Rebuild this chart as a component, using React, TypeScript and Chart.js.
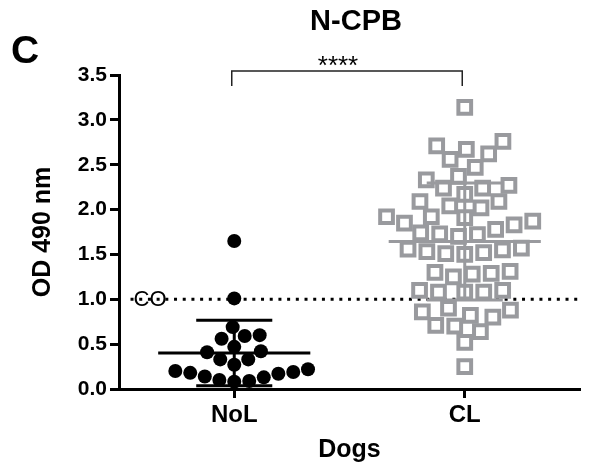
import React, { useEffect, useRef } from 'react';
import { Chart, registerables } from 'chart.js';

Chart.register(...registerables);

// ---- data ----
const categories = ['NoL', 'CL'];
const nolValues = [1.65, 1.01, 0.69, 0.60, 0.59, 0.56, 0.47, 0.42, 0.41, 0.33, 0.33, 0.27, 0.22, 0.20, 0.19, 0.18, 0.17, 0.14, 0.13, 0.10, 0.09, 0.08];
const clValues = [
  3.14, 2.76, 2.71, 2.67, 2.62, 2.56, 2.47, 2.37, 2.33, 2.27,
  2.24, 2.24, 2.17, 2.09, 2.09, 2.04, 2.02, 1.92, 1.92, 1.91,
  1.87, 1.85, 1.83, 1.78, 1.74, 1.73, 1.72, 1.70,
  1.57, 1.56, 1.55, 1.53, 1.52, 1.51, 1.50,
  1.31, 1.30, 1.29, 1.28, 1.25,
  1.10, 1.10, 1.08, 1.08, 1.08,
  0.90, 0.88, 0.86, 0.82, 0.80, 0.71, 0.70, 0.64, 0.52, 0.25,
];
const yTickValues = [0, 0.5, 1.0, 1.5, 2.0, 2.5, 3.0, 3.5];
const cutoffValue = 1.0;
const cutoffLabel = 'CO';
const chartTitle = 'N-CPB';
const panelLetter = 'C';
const significance = '****';
const yTitle = 'OD 490 nm';
const xTitle = 'Dogs';

const FONT = "'Liberation Sans', Arial, Helvetica, sans-serif";
const GRAY = '#999a9e';

function mean(a: number[]) {
  return a.reduce((s, v) => s + v, 0) / a.length;
}
function sd(a: number[]) {
  const m = mean(a);
  return Math.sqrt(a.reduce((s, v) => s + (v - m) * (v - m), 0) / (a.length - 1));
}

// beeswarm layout: offsets (in x-units) computed from the values
function swarmOffsets(values: number[], pxX: number, pxY: number, d: number) {
  const idx = values.map((_, i) => i).sort((a, b) => values[a] - values[b]);
  const placed: { x: number; y: number }[] = [];
  const out = new Array(values.length).fill(0);
  let side = 1;
  for (const i of idx) {
    const py = values[i] * pxY;
    const cands = [0];
    for (const p of placed) {
      const dy = Math.abs(p.y - py);
      if (dy < d) {
        const dx = Math.sqrt(d * d - dy * dy);
        cands.push(p.x + dx, p.x - dx);
      }
    }
    const ok = (cx: number) => placed.every((p) => (p.x - cx) ** 2 + (p.y - py) ** 2 >= d * d - 0.05);
    cands.sort((a, b) => {
      const da = Math.round(Math.abs(a) * 10), db = Math.round(Math.abs(b) * 10);
      if (da !== db) return da - db;
      return side > 0 ? b - a : a - b;
    });
    let best = 0;
    for (const c of cands) {
      if (ok(c)) { best = c; break; }
    }
    if (Math.abs(best) > 0.5) side = best > 0 ? -1 : 1;
    placed.push({ x: best, y: py });
    out[i] = best / pxX;
  }
  return out;
}

function errorBarData(values: number[], center: number) {
  const m = mean(values);
  const s = sd(values);
  const half = 0.33;
  const cap = 0.165;
  return [
    { x: center - half, y: m }, { x: center + half, y: m }, { x: center, y: null },
    { x: center - cap, y: m + s }, { x: center + cap, y: m + s }, { x: center, y: null },
    { x: center - cap, y: m - s }, { x: center + cap, y: m - s }, { x: center, y: null },
    { x: center, y: m - s }, { x: center, y: m + s },
  ];
}

const annotations = {
  id: 'annotations',
  afterDraw(chart: any) {
    const { ctx, scales, chartArea } = chart;
    const xs = scales.x, ys = scales.y;
    ctx.save();
    ctx.fillStyle = '#000';
    // panel letter
    ctx.font = `bold 39px ${FONT}`;
    ctx.textAlign = 'center';
    ctx.textBaseline = 'middle';
    ctx.fillText(panelLetter, 25, 52);
    // title
    ctx.font = `bold 29px ${FONT}`;
    ctx.fillText(chartTitle, 356, 22);
    // bracket
    const x1 = xs.getPixelForValue(1) - 2.5;
    const x2 = xs.getPixelForValue(2) - 2.5;
    ctx.strokeStyle = '#222';
    ctx.lineWidth = 1.5;
    ctx.beginPath();
    ctx.moveTo(x1, 86);
    ctx.lineTo(x1, 71);
    ctx.lineTo(x2, 71);
    ctx.lineTo(x2, 86);
    ctx.stroke();
    // stars
    ctx.font = `26px ${FONT}`;
    ctx.textBaseline = 'alphabetic';
    ctx.fillText(significance, (x1 + x2) / 2 - 9, 74);
    // cutoff label
    ctx.font = `22px ${FONT}`;
    ctx.textBaseline = 'middle';
    ctx.fillText(cutoffLabel, chartArea.left + 31, ys.getPixelForValue(cutoffValue) + 1);
    ctx.restore();
  },
};

export default function App() {
  const ref = useRef<HTMLCanvasElement | null>(null);

  useEffect(() => {
    const canvas = ref.current;
    if (!canvas) return;
    const chart = new Chart(canvas, {
      type: 'scatter',
      data: {
        datasets: [
          {
            label: 'NoL bars',
            data: errorBarData(nolValues, 1) as any,
            showLine: true,
            spanGaps: false,
            borderColor: '#000',
            borderWidth: 3,
            pointRadius: 0,
            order: 0,
          },
          {
            label: 'CL bars',
            data: errorBarData(clValues, 2) as any,
            showLine: true,
            spanGaps: false,
            borderColor: GRAY,
            borderWidth: 3,
            pointRadius: 0,
            order: 1,
          },
          {
            label: categories[0],
            data: nolValues.map((v) => ({ x: 1, y: v })),
            pointStyle: 'circle',
            pointRadius: 7,
            backgroundColor: '#000',
            borderWidth: 0,
            order: 2,
          },
          {
            label: categories[1],
            data: clValues.map((v) => ({ x: 2, y: v })),
            pointStyle: 'rect',
            pointRadius: 9,
            backgroundColor: 'rgba(0,0,0,0)',
            borderColor: GRAY,
            borderWidth: 4,
            order: 3,
          },
          {
            label: 'cutoff',
            data: [{ x: 0.55, y: cutoffValue }, { x: 2.5, y: cutoffValue }],
            showLine: true,
            borderColor: '#000',
            borderWidth: 3,
            borderDash: [3, 5.7],
            pointRadius: 0,
            order: 4,
            clip: false as any,
          },
        ],
      },
      options: {
        animation: false,
        responsive: true,
        maintainAspectRatio: false,
        events: [],
        layout: { padding: { top: 75, right: 0, bottom: 0, left: 0 } },
        plugins: {
          legend: { display: false },
          tooltip: { enabled: false },
          title: { display: false },
        },
        scales: {
          x: {
            type: 'linear',
            min: 0.5,
            max: 2.5,
            afterBuildTicks: (s: any) => {
              s.ticks = categories.map((_, i) => ({ value: i + 1 }));
            },
            afterFit: (s: any) => {
              s.height = 84;
            },
            ticks: {
              callback: (v: any) => categories[Math.round(Number(v)) - 1] ?? '',
              font: { family: FONT, size: 24, weight: 'bold' },
              color: '#000',
              padding: 3,
              autoSkip: false,
              maxRotation: 0,
            },
            grid: {
              drawOnChartArea: false,
              drawTicks: true,
              tickLength: 9,
              tickWidth: 3,
              tickColor: '#000',
            },
            border: { display: true, color: '#000', width: 3 },
            title: {
              display: true,
              text: xTitle,
              font: { family: FONT, size: 25, weight: 'bold' },
              color: '#000',
              padding: { top: 0, bottom: 8 },
            },
          },
          y: {
            type: 'linear',
            min: 0,
            max: 3.5,
            afterBuildTicks: (s: any) => {
              s.ticks = yTickValues.map((v) => ({ value: v }));
            },
            afterFit: (s: any) => {
              s.width = 119;
            },
            ticks: {
              callback: (v: any) => Number(v).toFixed(1),
              font: { family: FONT, size: 21, weight: 'bold' },
              color: '#000',
              padding: 3,
            },
            grid: {
              drawOnChartArea: false,
              drawTicks: true,
              tickLength: 9,
              tickWidth: 3,
              tickColor: '#000',
            },
            border: { display: true, color: '#000', width: 3 },
            title: {
              display: true,
              text: yTitle,
              font: { family: FONT, size: 25, weight: 'bold' },
              color: '#000',
              padding: { top: 28, bottom: 0 },
            },
          },
        },
      },
      plugins: [annotations],
    });

    const xs: any = chart.scales.x;
    const ys: any = chart.scales.y;
    const pxX = xs.getPixelForValue(2) - xs.getPixelForValue(1);
    const pxY = ys.getPixelForValue(0) - ys.getPixelForValue(1);
    const nolOff = swarmOffsets(nolValues, pxX, pxY, 15);
    const clOff = swarmOffsets(clValues, pxX, pxY, 19);
    chart.data.datasets[2].data = nolValues.map((v, i) => ({ x: 1 + nolOff[i], y: v }));
    chart.data.datasets[3].data = clValues.map((v, i) => ({ x: 2 + clOff[i], y: v }));
    chart.update();

    return () => chart.destroy();
  }, []);

  return (
    <div style={{ position: 'fixed', left: 0, top: 0, width: 593, height: 473, background: '#fff' }}>
      <canvas ref={ref} />
    </div>
  );
}
